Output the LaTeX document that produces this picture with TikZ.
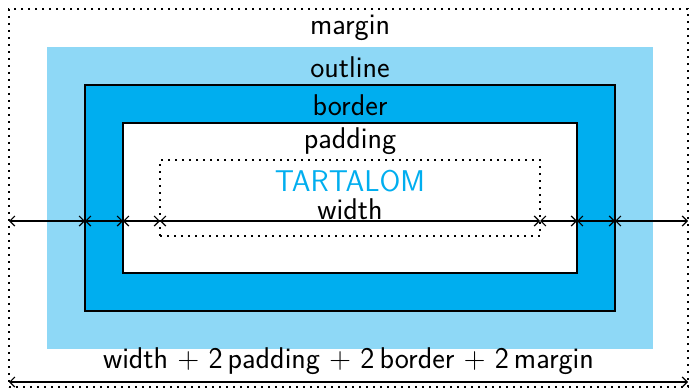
\documentclass[tikz,border=0pt]{standalone}
\usetikzlibrary{arrows.meta,positioning}
\definecolor{outlineblue}{RGB}{142,216,246}
\definecolor{borderblue}{RGB}{0,174,239}

\begin{document}
\begin{tikzpicture}
		[x=1pt,y=-1pt,font=\fontsize{30}{32}\selectfont\sffamily,
		box/.style={shape=rectangle,inner sep=0pt,outer sep=0pt},
		dotted box/.style={box,draw,line width=1.6pt,dash pattern=on 1.6pt off 5.4pt},
		solid box/.style={box,draw,line width=2pt},
		measure/.style={line width=1.2pt,{Straight Barb[length=5pt,width=10pt]}-{Straight Barb[length=5pt,width=10pt]}},
		layer label/.style={inner sep=0pt}
		]

		\useasboundingbox (0,0) rectangle (690,388);

		% the nested boxes
		\node [dotted box,minimum width=679pt,minimum height=378pt] (margin) at (348.5,198) {};
		\node [box,fill=outlineblue,minimum width=606pt,minimum height=302pt] (outline) at (350,198) {};
		\node [solid box,fill=borderblue,minimum width=530pt,minimum height=226pt] (border) at (350,198) {};
		\node [solid box,fill=white,minimum width=454pt,minimum height=150pt] (padding) at (350,198) {};
		\node [dotted box,minimum width=380pt,minimum height=76pt] (content) at (350,198) {};

		\node [layer label] (margin label) at (350,28) {margin};
		\node [layer label] (outline label) at (350,67) {outline};
		\node [layer label] (border label) at (350,105) {border};
		\node [layer label] (padding label) at (350,141) {padding};
		\node [layer label,text=borderblue] (content label) at (350,181) {TARTALOM};
		\node [layer label] (width label) at (350,209) {width};

		% measuring line
		\coordinate (axis) at (350,221);
		\foreach \a/\b in {margin/border,border/padding,padding/content}
			\draw[measure] (\a.west |- axis) -- (\b.west |- axis);
		\draw[measure] (content.west |- axis) -- (content.east |- axis);
		\foreach \a/\b in {content/padding,padding/border,border/margin}
			\draw[measure] (\a.east |- axis) -- (\b.east |- axis);

		\draw[measure] ([yshift=5pt]margin.south west) -- ([yshift=5pt]margin.south east)
			node [midway,above=3pt] (total label) {width {\rmfamily+} 2\,padding {\rmfamily+} 2\,border {\rmfamily+} 2\,margin};

\end{tikzpicture}
\end{document}
